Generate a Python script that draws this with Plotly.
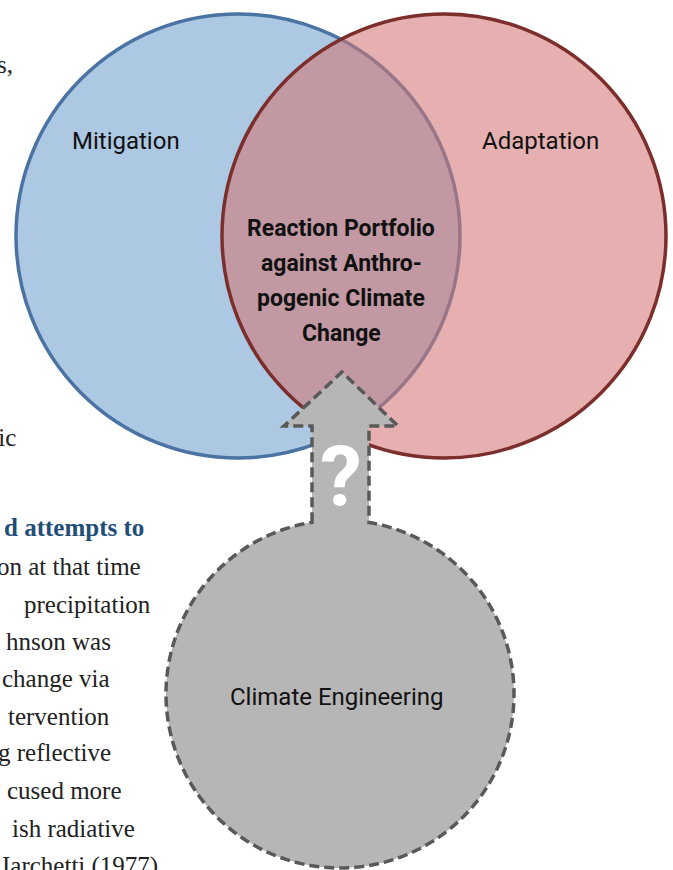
import numpy as np
import plotly.graph_objects as go

W, H = 673, 870

# Labels
venn_labels = ["Mitigation", "Adaptation"]
center_lines = ["Reaction Portfolio", "against Anthro-", "pogenic Climate", "Change"]
ce_label = "Climate Engineering"
qmark = "?"

# Background page text fragments (cropped page)
bg_lines = ["s,", "fic", "d attempts to", "on at that time", "precipitation",
            "hnson was", "change via", "tervention", "g reflective", "cused more",
            "ish radiative", "Iarchetti (1977)"]
bg_right = [15, 18, 146, 143, 153, 113, 112, 112, 113, 124, 137, 160]
bg_y = [64, 437, 527, 566, 604, 641, 678, 716, 752, 790, 828, 866]
bg_bold = [False, False, True, False, False, False, False, False, False, False, False, False]

fig = go.Figure()
fig.add_trace(go.Scatter(x=[0, W], y=[0, H], mode="markers", marker=dict(opacity=0), hoverinfo="skip", showlegend=False))

shapes = []
# Blue circle (Mitigation)
bc = (238, 236, 222)
shapes.append(dict(type="circle", xref="x", yref="y", x0=bc[0]-bc[2], x1=bc[0]+bc[2], y0=bc[1]-bc[2], y1=bc[1]+bc[2],
                   fillcolor="rgb(173,200,226)", line=dict(color="rgb(74,114,162)", width=3.5), layer="above"))
# Red circle (Adaptation)
rc = (444, 236, 222)
shapes.append(dict(type="circle", xref="x", yref="y", x0=rc[0]-rc[2], x1=rc[0]+rc[2], y0=rc[1]-rc[2], y1=rc[1]+rc[2],
                   fillcolor="rgba(210,119,117,0.58)", line=dict(color="rgb(123,46,43)", width=3.5), layer="above"))

# Grey circle + arrow combined outline
cx, cy, r = 340, 694, 174
sl, sr = 312, 369
hb, hl, hr, tipx, tipy = 426, 284, 398, 342, 372
tl = np.arctan2(-np.sqrt(r**2 - (sl-cx)**2), sl-cx)
tr = np.arctan2(-np.sqrt(r**2 - (sr-cx)**2), sr-cx)
ts = np.linspace(tr, tl + 2*np.pi, 300)
pts = [(sl, cy + r*np.sin(tl)), (sl, hb), (hl, hb), (tipx, tipy), (hr, hb), (sr, hb), (sr, cy + r*np.sin(tr))]
pts += [(cx + r*np.cos(t), cy + r*np.sin(t)) for t in ts]
path = "M " + " L ".join(f"{x:.2f},{y:.2f}" for x, y in pts) + " Z"
shapes.append(dict(type="path", xref="x", yref="y", path=path, fillcolor="rgb(182,182,182)",
                   line=dict(color="rgb(89,89,89)", width=3.5, dash="10px,5px"), layer="above"))

fig.update_layout(shapes=shapes)

ann = []
ann.append(dict(x=126, y=141, text=venn_labels[0], font=dict(family="Roboto", size=24, color="#111")))
ann.append(dict(x=540, y=141, text=venn_labels[1], font=dict(family="Roboto", size=24, color="#111")))
for i, ln in enumerate(center_lines):
    ann.append(dict(x=341, y=228 + 35*i, text="<b>" + ln + "</b>",
                    font=dict(family="Roboto", size=23, color="#111")))
ann.append(dict(x=337, y=697, text=ce_label, font=dict(family="Roboto", size=24, color="#111")))
ann.append(dict(x=341, y=477, text="<b>" + qmark + "</b>", font=dict(family="Roboto", size=84, color="white")))
for t, xr, yy, b in zip(bg_lines, bg_right, bg_y, bg_bold):
    ann.append(dict(x=xr, y=yy, text=("<b>" + t + "</b>") if b else t, xanchor="right",
                    font=dict(family="Liberation Serif", size=25, color="rgb(31,78,121)" if b else "#222")))
for a in ann:
    a.setdefault("xanchor", "center")
    a.update(xref="x", yref="y", showarrow=False, yanchor="middle")
fig.update_layout(annotations=ann)

fig.update_layout(width=W, height=H, margin=dict(l=0, r=0, t=0, b=0),
                  plot_bgcolor="white", paper_bgcolor="white", showlegend=False,
                  xaxis=dict(range=[0, W], visible=False, fixedrange=True),
                  yaxis=dict(range=[H, 0], visible=False, fixedrange=True))
fig.write_html("out.html", config={"displayModeBar": False},
               post_script="document.body.style.margin='0';document.body.style.overflow='hidden';")
